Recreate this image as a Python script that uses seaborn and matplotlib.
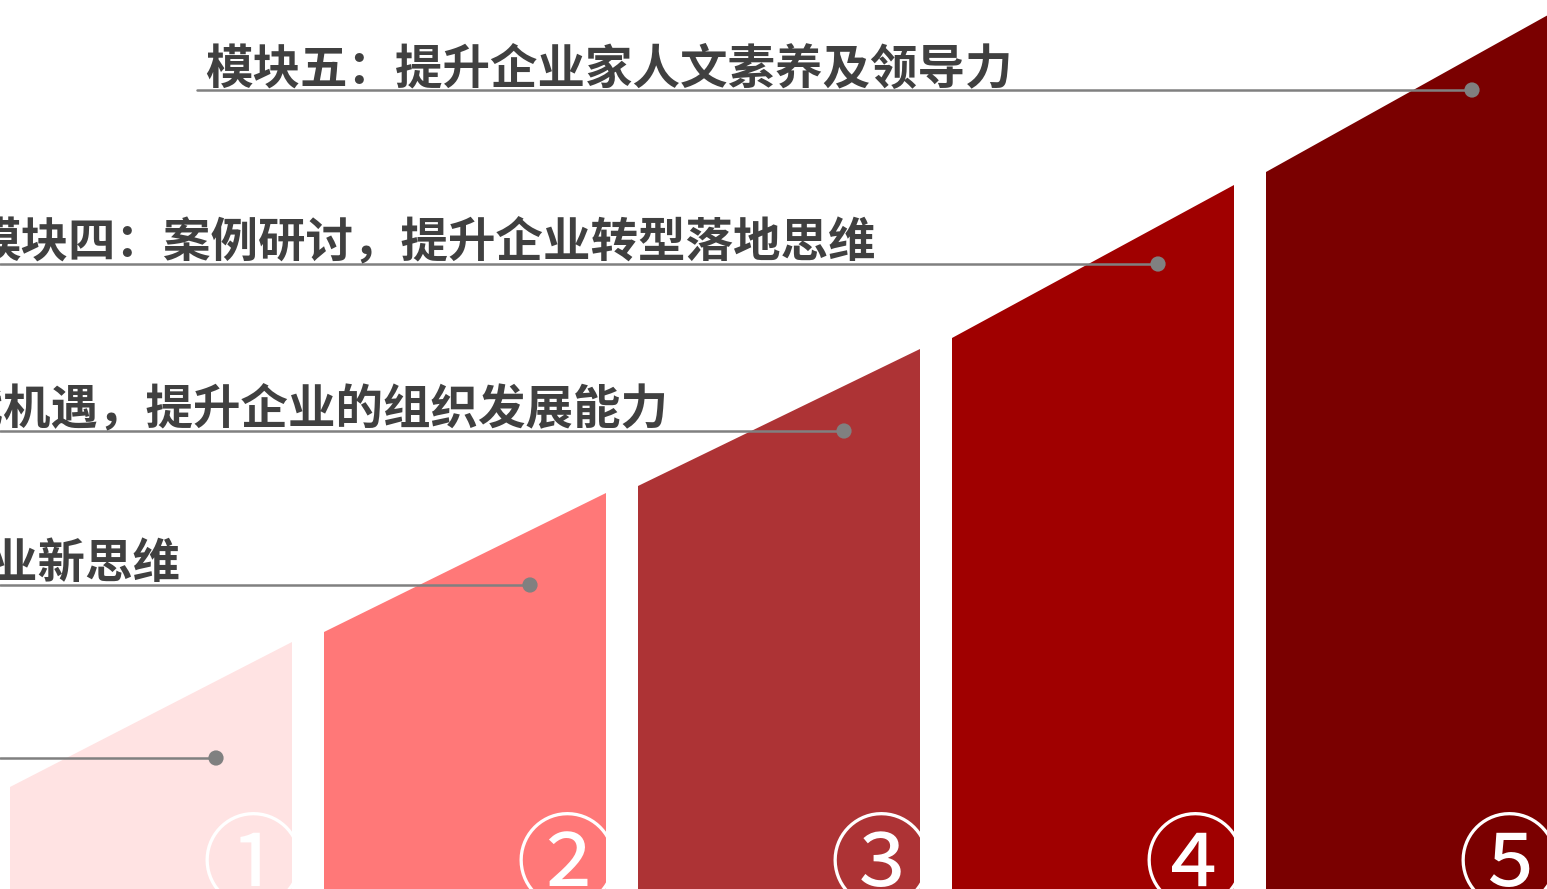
import numpy as np
import pandas as pd
import matplotlib
matplotlib.use("Agg")
import matplotlib.pyplot as plt
import seaborn as sns

# Data: five modules, bar heights at left/right top corner, leader line levels
modules = ["模块一", "模块二", "模块三", "模块四", "模块五"]
labels = [
    "",
    "模块二：创新驱动，重塑企业新思维",
    "模块三：把握时代机遇，提升企业的组织发展能力",
    "模块四：案例研讨，提升企业转型落地思维",
    "模块五：提升企业家人文素养及领导力",
]
badges = ["①", "②", "③", "④", "⑤"]
top_left = [102, 257, 403, 551, 717]
top_right = [247, 396, 540, 704, 874]
leader_level = [131, 304, 458, 625, 799]
label_end = [-20, 180, 668, 876, 1013]
colors = ["#FFE3E3", "#FF7878", "#AD3335", "#A00000", "#7A0000"]

sns.set_theme(style="white")
plt.rcParams['font.family'] = ['Noto Sans CJK SC', 'DejaVu Sans']

W, H = 1547, 889
fig = plt.figure(figsize=(W / 100, H / 100), dpi=100)
ax = fig.add_axes([0, 0, 1, 1])
ax.set_xlim(0, W)
ax.set_ylim(0, H)
ax.axis("off")

x0, step, width = 10, 314, 282
df = pd.DataFrame({"module": modules, "tl": top_left, "tr": top_right,
                   "lvl": leader_level, "end": label_end, "color": colors})
df["left"] = x0 + step * np.arange(len(df))
df["right"] = df["left"] + width
df["dot"] = df["left"] + 206

# slanted bars
for _, r in df.iterrows():
    ax.fill([r["left"], r["left"], r["right"], r["right"]],
            [0, r["tl"], r["tr"], 0], color=r["color"], lw=0, zorder=1)

# leader lines
for i, r in df.iterrows():
    start = 197 if i == len(df) - 1 else 0
    ax.plot([start, r["dot"]], [r["lvl"], r["lvl"]], color="#808080", lw=1.8, zorder=3)
sns.scatterplot(data=df, x="dot", y="lvl", color="#808080", s=120,
                edgecolor="none", ax=ax, zorder=4, legend=False)

# labels
for i, r in df.iterrows():
    if labels[i]:
        ax.text(r["end"], r["lvl"] - 4, labels[i], ha="right", va="bottom",
                fontsize=34.2, fontweight="heavy", color="#404040", zorder=5)

# circled numbers
for i, r in df.iterrows():
    ax.text(r["left"] + 243, 20, badges[i], ha="center", va="center",
            fontsize=74, color="white", zorder=5)

ax.set_xlim(0, W)
ax.set_ylim(0, H)
fig.savefig("out.png", dpi=100)
